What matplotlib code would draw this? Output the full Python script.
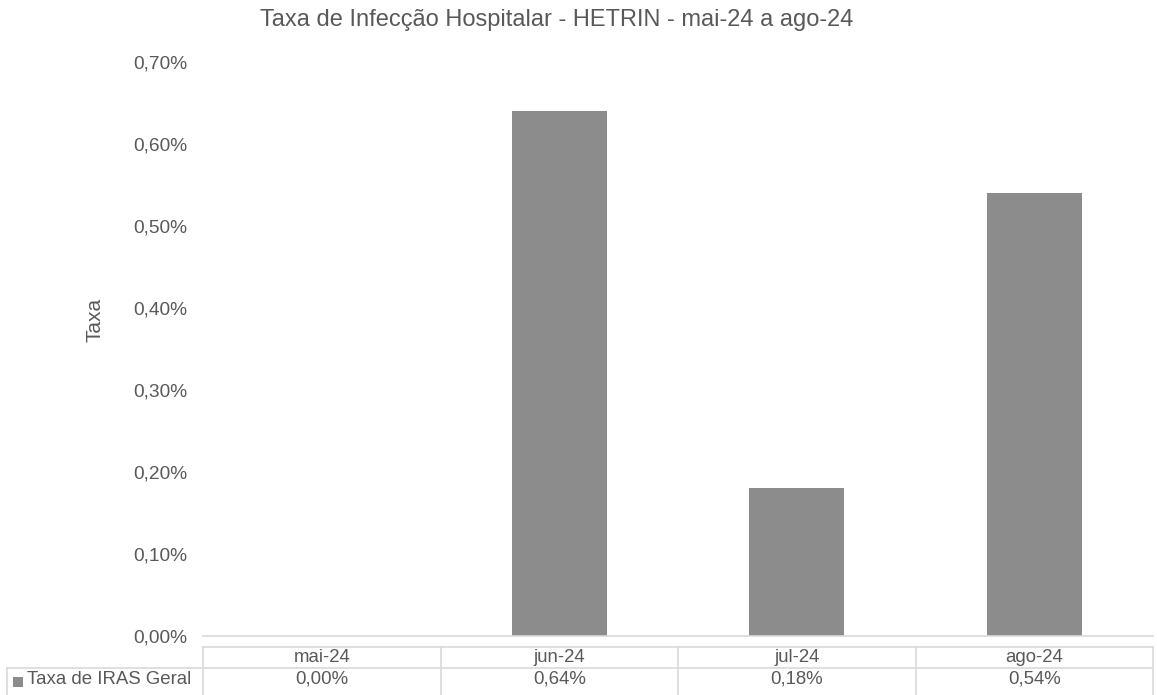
import matplotlib
matplotlib.use("Agg")
import matplotlib.pyplot as plt
from matplotlib.lines import Line2D
from matplotlib.patches import Rectangle
from matplotlib.ticker import FuncFormatter
from matplotlib.transforms import blended_transform_factory

# Data
months = ["mai-24", "jun-24", "jul-24", "ago-24"]
taxa = [0.0000, 0.0064, 0.0018, 0.0054]
series_name = "Taxa de IRAS Geral"
title = "Taxa de Infecção Hospitalar - HETRIN - mai-24 a ago-24"

TEXT = "#595959"
BAR = "#8c8c8c"
GRID = "#d9d9d9"

plt.rcParams["font.family"] = ["Liberation Sans", "DejaVu Sans"]

W, H = 1157, 695
fig = plt.figure(figsize=(W / 100, H / 100), dpi=100)
ax = fig.add_axes([203 / W, 1 - 636 / H, (1153 - 203) / W, (636 - 62) / H])


def pct(v, pos=None):
    return f"{v * 100:.2f}%".replace(".", ",")


x = range(len(months))
ax.bar(x, taxa, width=0.4, color=BAR)
ax.set_xlim(-0.5, len(months) - 0.5)
ax.set_ylim(0, 0.007)
ax.set_yticks([i / 1000 for i in range(8)])
ax.yaxis.set_major_formatter(FuncFormatter(pct))
ax.tick_params(axis="y", length=0, labelsize=13.8, labelcolor=TEXT, pad=11)
ax.set_xticks([])
for s in ["top", "right", "left"]:
    ax.spines[s].set_visible(False)
ax.spines["bottom"].set_color(GRID)
ax.spines["bottom"].set_linewidth(1.2)

# axis title and chart title
fig.text(95 / W, 1 - 320 / H, "Taxa", rotation=90, ha="center", va="center",
         fontsize=15, color=TEXT)
fig.text(557 / W, 1 - 20 / H, title, ha="center", va="center",
         fontsize=17, color=TEXT)

# Data table below the axis
tr = blended_transform_factory(ax.transData, fig.transFigure)
y_top, y_mid, y_bot = 1 - 647 / H, 1 - 668 / H, 1 - 690 / H
left_fig = 7 / W
n = len(months)
lines = [
    Line2D([-0.5, n - 0.5], [y_top, y_top], transform=tr),
]
for i in range(n + 1):
    lines.append(Line2D([i - 0.5, i - 0.5], [y_top, 1 - 695 / H], transform=tr))
for ln in lines:
    ln.set_color(GRID)
    ln.set_linewidth(1.2)
    fig.add_artist(ln)
fig.add_artist(Line2D([left_fig, 1153 / W], [y_mid, y_mid], transform=fig.transFigure,
                      color=GRID, lw=1.2))
fig.add_artist(Line2D([left_fig, left_fig], [y_mid, 1 - 695 / H], transform=fig.transFigure,
                      color=GRID, lw=1.2))

for i, (m, v) in enumerate(zip(months, taxa)):
    fig.text(i, 1 - 657.5 / H, m, transform=tr, ha="center", va="center",
             fontsize=13.4, color=TEXT)
    fig.text(i, 1 - 679.5 / H, pct(v), transform=tr, ha="center", va="center",
             fontsize=13.4, color=TEXT)

fig.add_artist(Rectangle((13 / W, 1 - 687 / H), 10 / W, 10 / H, transform=fig.transFigure,
                         color=BAR, lw=0))
fig.text(27 / W, 1 - 679.5 / H, series_name, ha="left", va="center",
         fontsize=13.4, color=TEXT)

fig.savefig("out.png", dpi=100)
